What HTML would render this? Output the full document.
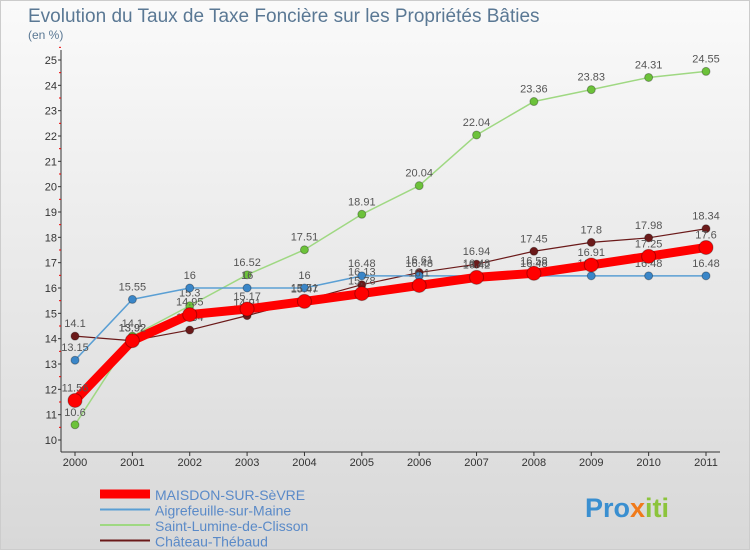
<!DOCTYPE html>
<html><head><meta charset="utf-8"><style>
body{margin:0;background:#fff;font-family:"Liberation Sans",sans-serif}
#wrap{position:relative;width:748px;height:548px;border:1px solid #ccc;background:linear-gradient(#fafafa,#d8d8d8)}
svg text{font-family:"Liberation Sans",sans-serif}
</style></head><body>
<div id="wrap">
<svg id="chart" width="750" height="550" style="position:absolute;left:-1px;top:-1px">
<text x="28" y="22" font-size="19" fill="#5a7894">Evolution du Taux de Taxe Foncière sur les Propriétés Bâties</text>
<text x="28" y="39" font-size="12" fill="#5a7894">(en %)</text>
<g id="axes"></g><g id="series"></g><g id="legend"></g>
<g><text x="585" y="517" font-size="27" font-weight="bold" fill="#3a8fd0">Pro<tspan fill="#f07a1a">x</tspan><tspan fill="#8cc43c">iti</tspan></text></g>
</svg>
</div>
<script>
const years=[2000,2001,2002,2003,2004,2005,2006,2007,2008,2009,2010,2011];
const yTicks=[10,11,12,13,14,15,16,17,18,19,20,21,22,23,24,25];
const maisdon=[11.56,13.92,14.95,15.17,15.47,15.78,16.1,16.42,16.58,16.91,17.25,17.6];
const aigre=[13.15,15.55,16,16,16,16.48,16.48,16.48,16.48,16.48,16.48,16.48];
const lumine=[10.6,14.1,15.3,16.52,17.51,18.91,20.04,22.04,23.36,23.83,24.31,24.55];
const chateau=[14.1,13.92,14.34,14.91,15.51,16.13,16.61,16.94,17.45,17.8,17.98,18.34];
const names=["MAISDON-SUR-SèVRE","Aigrefeuille-sur-Maine","Saint-Lumine-de-Clisson","Château-Thébaud"];
const NS="http://www.w3.org/2000/svg";
function X(i){return 75+i*(706-75)/(years.length-1);}
function Y(v){return 440-(v-10)*(380/15);}
function mk(tag,attrs,parent){const e=document.createElementNS(NS,tag);for(const k in attrs)e.setAttribute(k,attrs[k]);parent.appendChild(e);return e;}
const ax=document.getElementById('axes');
let l=mk('line',{x1:61,y1:50,x2:61,y2:452,stroke:'#333'},ax);


l=mk('line',{x1:61,y1:452,x2:720,y2:452,stroke:'#333'},ax);


yTicks.forEach(v=>{
 const t=mk('text',{x:57,y:Y(v)+4,'font-size':11,'text-anchor':'end',fill:'#333'},ax);t.textContent=v;
 
 
 mk('line',{x1:58,x2:61,y1:Y(v),y2:Y(v),stroke:'#333'},ax);
 mk('line',{x1:59,x2:61,y1:Y(v+0.5),y2:Y(v+0.5),stroke:'#e00'},ax);
});
years.forEach((y,i)=>{
 const t=mk('text',{x:X(i),y:466,'font-size':11,'text-anchor':'middle',fill:'#333'},ax);t.textContent=y;
 
 
 mk('line',{x1:X(i),x2:X(i),y1:452,y2:456,stroke:'#333'},ax);
});
const sg=document.getElementById('series');
const defs=[[chateau,'#6b1a1a','#6b1a1a',1.2,4,'chateau'],[lumine,'#9fd882','#6cc23a',1.5,4,'lumine'],[aigre,'#5a9fd4','#3a86c8',1.5,4,'aigrefeuille'],[maisdon,'#f00','#f00',9,7,'maisdon']];
defs.forEach(([d,c,fc,w,r,n])=>{
 const p=mk('polyline',{points:d.map((v,i)=>X(i)+','+Y(v)).join(' '),fill:'none',stroke:c,'stroke-width':w,'stroke-linejoin':'round'},sg);
 
 
 d.forEach((v,i)=>{
  const cc=mk('circle',{cx:X(i),cy:Y(v),r:r,fill:fc,stroke:'rgba(0,0,0,0.3)','stroke-width':1},sg);
  
  
  const t=mk('text',{x:X(i),y:Y(v)-9,'font-size':11,'text-anchor':'middle',fill:'#555'},sg);t.textContent=v;
  
  
 });
});
const lg=document.getElementById('legend');
const lc=['#f00','#5a9fd4','#9fd882','#6b1a1a'],lw=[9,2,2,2];
names.forEach((n,i)=>{
 const y=494+i*15.5;
 const ln=mk('line',{x1:100,x2:150,y1:y,y2:y,stroke:lc[i],'stroke-width':lw[i]},lg);
 
 
 const t=mk('text',{x:155,y:y+6,'font-size':14,fill:'#5a8ac8'},lg);t.textContent=n;
 
 
});
</script>
</body></html>
